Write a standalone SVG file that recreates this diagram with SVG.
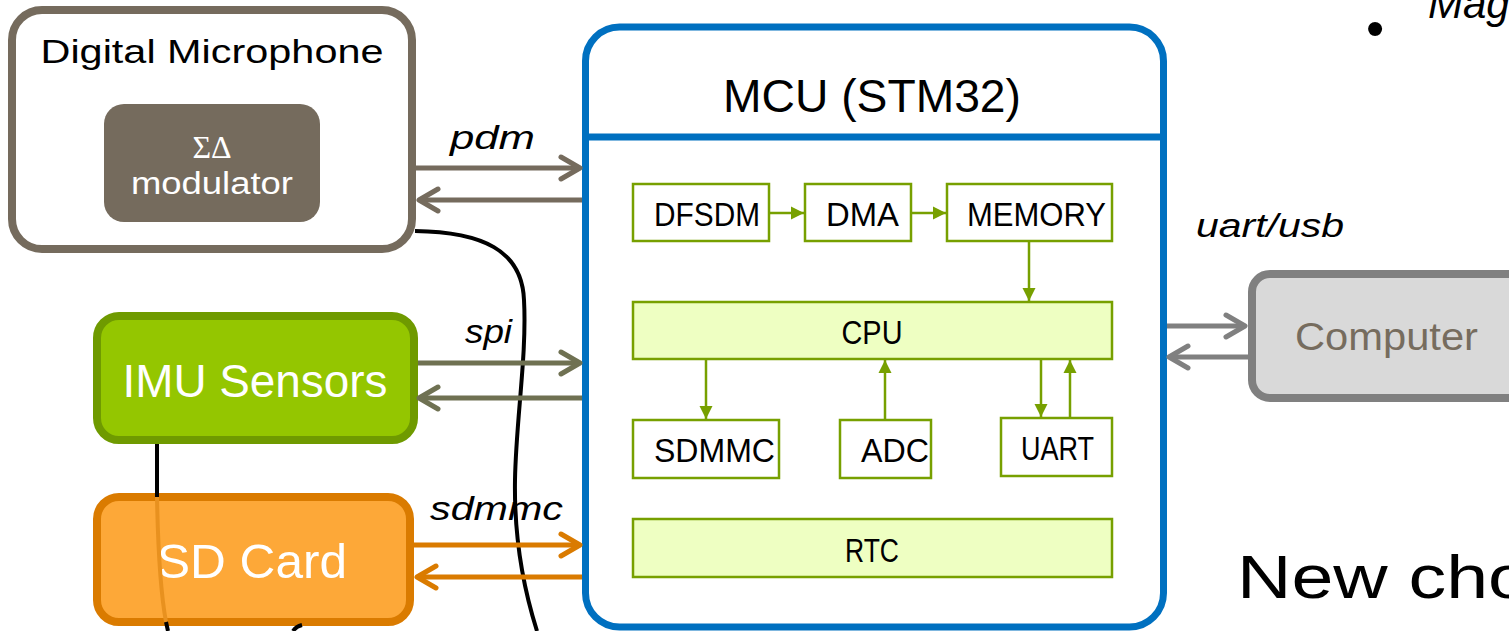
<svg xmlns="http://www.w3.org/2000/svg" width="1509" height="631" viewBox="0 0 1509 631">
  <style>
    .t { font-family: "Liberation Sans", Arial, sans-serif; }
    .it { font-family: "Liberation Sans", Arial, sans-serif; font-style: italic; }
    .inbox { fill: #ffffff; stroke: #77A000; stroke-width: 2.5; }
    .inbar { fill: #EEFFC2; stroke: #77A000; stroke-width: 2.5; }
    .inlbl { font-family: "Liberation Sans", Arial, sans-serif; font-size: 33px; fill: #000; }
    .garrow { stroke: #77A000; stroke-width: 2.5; fill: none; }
    .ext { stroke-width: 5; fill: none; }
  </style>
  <defs>
    <marker id="chevBrown" markerUnits="userSpaceOnUse" viewBox="-24 -16 28 32" markerWidth="28" markerHeight="32" refX="0" refY="0" orient="auto" overflow="visible">
      <path d="M-19,-11 L0,0 L-19,11" fill="none" stroke="#756B5D" stroke-width="5" stroke-linecap="round" stroke-linejoin="round"/>
    </marker>
    <marker id="chevOlive" markerUnits="userSpaceOnUse" viewBox="-24 -16 28 32" markerWidth="28" markerHeight="32" refX="0" refY="0" orient="auto" overflow="visible">
      <path d="M-19,-11 L0,0 L-19,11" fill="none" stroke="#6F7152" stroke-width="5" stroke-linecap="round" stroke-linejoin="round"/>
    </marker>
    <marker id="chevOrange" markerUnits="userSpaceOnUse" viewBox="-24 -16 28 32" markerWidth="28" markerHeight="32" refX="0" refY="0" orient="auto" overflow="visible">
      <path d="M-19,-11 L0,0 L-19,11" fill="none" stroke="#DA7B00" stroke-width="5" stroke-linecap="round" stroke-linejoin="round"/>
    </marker>
    <marker id="chevGray" markerUnits="userSpaceOnUse" viewBox="-24 -16 28 32" markerWidth="28" markerHeight="32" refX="0" refY="0" orient="auto" overflow="visible">
      <path d="M-19,-11 L0,0 L-19,11" fill="none" stroke="#808080" stroke-width="5" stroke-linecap="round" stroke-linejoin="round"/>
    </marker>
    <marker id="triGreen" markerUnits="userSpaceOnUse" viewBox="-14 -7 15 14" markerWidth="15" markerHeight="14" refX="0" refY="0" orient="auto" overflow="visible">
      <path d="M0,0 L-13,-6.5 L-13,6.5 Z" fill="#77A000"/>
    </marker>
  </defs>

  <rect width="1509" height="631" fill="#ffffff"/>

  <!-- Digital Microphone -->
  <g id="mic">
    <rect x="12" y="10" width="400" height="239" rx="30" fill="#ffffff" stroke="#756B5D" stroke-width="8"/>
    <text class="t" x="212" y="63" font-size="34" text-anchor="middle" textLength="343" lengthAdjust="spacingAndGlyphs">Digital Microphone</text>
    <g id="modulator">
      <rect x="104" y="104" width="216" height="118" rx="20" fill="#756B5D"/>
      <text x="212" y="158" font-family="'Liberation Serif', serif" font-size="32" fill="#ffffff" text-anchor="middle">ΣΔ</text>
      <text class="t" x="212" y="194" font-size="31" fill="#ffffff" text-anchor="middle" textLength="162" lengthAdjust="spacingAndGlyphs">modulator</text>
    </g>
  </g>

  <!-- IMU Sensors -->
  <g id="imu">
    <rect x="97" y="316" width="317" height="124" rx="22" fill="#94C600" stroke="#6F9A00" stroke-width="8"/>
    <text class="t" x="255" y="397" font-size="47" fill="#ffffff" text-anchor="middle" textLength="265" lengthAdjust="spacingAndGlyphs">IMU Sensors</text>
  </g>

  <!-- SD Card -->
  <g id="sdcard">
    <rect x="97" y="497" width="313" height="125" rx="22" fill="#FDA838" stroke="#DA7B00" stroke-width="8"/>
    <text class="t" x="252" y="578" font-size="48" fill="#ffffff" text-anchor="middle" textLength="190" lengthAdjust="spacingAndGlyphs">SD Card</text>
  </g>

  <!-- MCU -->
  <g id="mcu">
    <rect x="585.5" y="27" width="578" height="600" rx="34" fill="#ffffff" stroke="#0070C0" stroke-width="7"/>
    <line x1="585.5" y1="137" x2="1163.5" y2="137" stroke="#0070C0" stroke-width="7"/>
    <text class="t" x="872" y="112" font-size="46" text-anchor="middle" textLength="298" lengthAdjust="spacingAndGlyphs">MCU (STM32)</text>

    <g id="dfsdm">
      <rect class="inbox" x="633" y="184" width="136" height="57"/>
      <text class="inlbl" x="654" y="226" textLength="106" lengthAdjust="spacingAndGlyphs">DFSDM</text>
    </g>
    <g id="dma">
      <rect class="inbox" x="805" y="184" width="106" height="57"/>
      <text class="inlbl" x="826" y="226" textLength="73" lengthAdjust="spacingAndGlyphs">DMA</text>
    </g>
    <g id="memory">
      <rect class="inbox" x="947" y="184" width="165" height="57"/>
      <text class="inlbl" x="967" y="226" textLength="139" lengthAdjust="spacingAndGlyphs">MEMORY</text>
    </g>
    <g id="cpu">
      <rect class="inbar" x="633" y="302" width="479" height="57"/>
      <text class="inlbl" x="872" y="344" text-anchor="middle" textLength="61" lengthAdjust="spacingAndGlyphs">CPU</text>
    </g>
    <g id="sdmmc">
      <rect class="inbox" x="633" y="420" width="146" height="58"/>
      <text class="inlbl" x="654" y="462" textLength="121" lengthAdjust="spacingAndGlyphs">SDMMC</text>
    </g>
    <g id="adc">
      <rect class="inbox" x="840" y="420" width="91" height="58"/>
      <text class="inlbl" x="861" y="462" textLength="68" lengthAdjust="spacingAndGlyphs">ADC</text>
    </g>
    <g id="uart">
      <rect class="inbox" x="1001" y="418" width="111" height="58"/>
      <text class="inlbl" x="1021" y="460" textLength="73" lengthAdjust="spacingAndGlyphs">UART</text>
    </g>
    <g id="rtc">
      <rect class="inbar" x="633" y="519" width="479" height="58"/>
      <text class="inlbl" x="872" y="562" text-anchor="middle" textLength="54" lengthAdjust="spacingAndGlyphs">RTC</text>
    </g>
  </g>

  <!-- Computer -->
  <g id="computer">
    <rect x="1252" y="274" width="290" height="124" rx="18" fill="#D9D9D9" stroke="#808080" stroke-width="8"/>
    <text class="t" x="1295" y="350" font-size="38" fill="#766C5E" textLength="183" lengthAdjust="spacingAndGlyphs">Computer</text>
  </g>

  <!-- Connectors -->
  <g id="connectors">
    <!-- black curves -->
    <path d="M415,231 C482,232 522,250 524,300 C527,355 516,420 515,480 C514,540 524,590 537,631" fill="none" stroke="#000" stroke-width="4"/>
    <path d="M157,444 L157,497" fill="none" stroke="#000" stroke-width="4"/>
    <path d="M157,497 C158,550 161,595 166,622" fill="none" stroke="#E8911F" stroke-width="4"/>
    <path d="M166,622 L168,631" fill="none" stroke="#000" stroke-width="4"/>
    <path d="M293,631 C295,628 298,626 302,625" fill="none" stroke="#000" stroke-width="4"/>

    <!-- pdm -->
    <line class="ext" x1="416" y1="168" x2="580" y2="168" stroke="#756B5D" marker-end="url(#chevBrown)"/>
    <line class="ext" x1="582" y1="200" x2="419" y2="200" stroke="#756B5D" marker-end="url(#chevBrown)"/>
    <!-- spi -->
    <line class="ext" x1="418" y1="363" x2="580" y2="363" stroke="#6F7152" marker-end="url(#chevOlive)"/>
    <line class="ext" x1="582" y1="398" x2="419" y2="398" stroke="#6F7152" marker-end="url(#chevOlive)"/>
    <!-- sdmmc -->
    <line class="ext" x1="414" y1="545" x2="580" y2="545" stroke="#DA7B00" marker-end="url(#chevOrange)"/>
    <line class="ext" x1="582" y1="577" x2="417" y2="577" stroke="#DA7B00" marker-end="url(#chevOrange)"/>
    <!-- uart/usb -->
    <line class="ext" x1="1167" y1="326" x2="1245" y2="326" stroke="#808080" marker-end="url(#chevGray)"/>
    <line class="ext" x1="1248" y1="357" x2="1169" y2="357" stroke="#808080" marker-end="url(#chevGray)"/>

    <!-- internal -->
    <line class="garrow" x1="769" y1="213" x2="804" y2="213" marker-end="url(#triGreen)"/>
    <line class="garrow" x1="911" y1="213" x2="946" y2="213" marker-end="url(#triGreen)"/>
    <line class="garrow" x1="1029" y1="241" x2="1029" y2="301" marker-end="url(#triGreen)"/>
    <line class="garrow" x1="706" y1="359" x2="706" y2="419" marker-end="url(#triGreen)"/>
    <line class="garrow" x1="885" y1="420" x2="885" y2="360" marker-end="url(#triGreen)"/>
    <line class="garrow" x1="1041" y1="359" x2="1041" y2="417" marker-end="url(#triGreen)"/>
    <line class="garrow" x1="1070" y1="418" x2="1070" y2="360" marker-end="url(#triGreen)"/>

    <!-- labels -->
    <text class="it" x="450" y="149" font-size="33" textLength="85" lengthAdjust="spacingAndGlyphs">pdm</text>
    <text class="it" x="465" y="343" font-size="33" textLength="47" lengthAdjust="spacingAndGlyphs">spi</text>
    <text class="it" x="430" y="520" font-size="33" textLength="133" lengthAdjust="spacingAndGlyphs">sdmmc</text>
    <text class="it" x="1196" y="237" font-size="33" textLength="148" lengthAdjust="spacingAndGlyphs">uart/usb</text>
  </g>

  <!-- Slide text fragments -->
  <text class="t" x="1366" y="46" font-size="52">•</text>
  <text class="it" x="1428" y="18" font-size="42">Mag</text>
  <text class="t" x="1237" y="598" font-size="62" textLength="293" lengthAdjust="spacingAndGlyphs">New cho</text>
</svg>
